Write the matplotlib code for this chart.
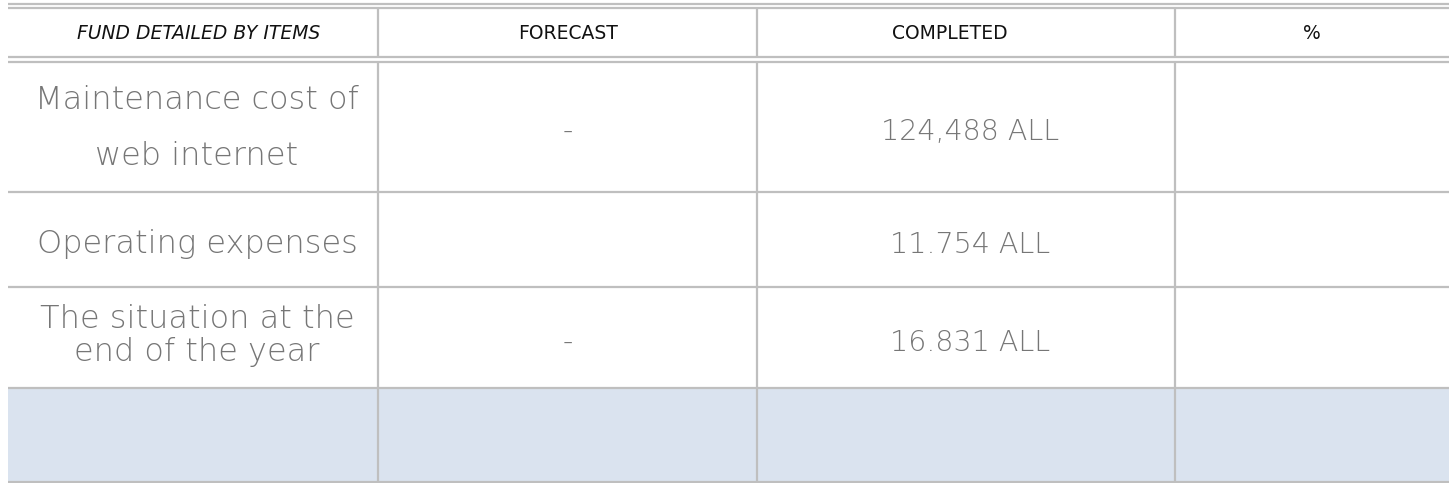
import matplotlib
matplotlib.use("Agg")
import matplotlib.pyplot as plt
from matplotlib.patches import Rectangle

# ---- data ----
headers = ["FUND DETAILED BY ITEMS", "FORECAST", "COMPLETED", "%"]
header_italic = [True, False, False, False]
items = [["Maintenance cost of", "web internet"],
         ["Operating expenses"],
         ["The situation at the", "end of the year"],
         []]
forecast = ["-", "", "-", ""]
completed = ["124,488 ALL", "11.754 ALL", "16.831 ALL", ""]
percent = ["", "", "", ""]

# ---- layout (pixels) ----
W, H = 1449, 483
col_edges = [8, 378, 757, 1175, 1449]
row_edges = [8, 59.5, 192, 287, 388, 482]
item_baselines = [[109, 165], [253], [328, 361], []]
value_baselines = [140, 253, 351, 0]

line_c = "#bfbfbf"
fill_c = "#dae3ef"
text_c = "#767676"
lw = 1.6

fig = plt.figure(figsize=(W / 100, H / 100), dpi=100)
ax = fig.add_axes([0, 0, 1, 1])
ax.set_xlim(0, W)
ax.set_ylim(H, 0)
ax.axis("off")

# shaded last row
ax.add_patch(Rectangle((col_edges[0], row_edges[4]), col_edges[-1] - col_edges[0],
                       row_edges[5] - row_edges[4], facecolor=fill_c, edgecolor="none", zorder=0))

x0, x1 = col_edges[0], col_edges[-1]
for y in (4, 8, 57.3, 61.7):
    ax.plot([x0, x1], [y, y], color=line_c, lw=lw, solid_capstyle="butt")
for y in row_edges[2:]:
    ax.plot([x0, x1], [y, y], color=line_c, lw=lw, solid_capstyle="butt")
for x in col_edges[1:-1]:
    ax.plot([x, x], [8, 57.3], color=line_c, lw=lw, solid_capstyle="butt")
    ax.plot([x, x], [61.7, 482], color=line_c, lw=lw, solid_capstyle="butt")

family = ["DejaVu Sans"]
header_x = [199, 568, 950, 1312]
for cx, h, it in zip(header_x, headers, header_italic):
    ax.text(cx, 39, h, ha="center", va="baseline", fontsize=13.5,
            style="italic" if it else "normal", color="#111111", family=family)

item_x = 197
forecast_x = (378 + 757) / 2
completed_x = 970
percent_x = (1175 + 1449) / 2
for r in range(4):
    for line, yb in zip(items[r], item_baselines[r]):
        ax.text(item_x, yb, line, ha="center", va="baseline", fontsize=23,
                color=text_c, family=family, weight="light")
    for cx, col in ((forecast_x, forecast), (completed_x, completed), (percent_x, percent)):
        if col[r]:
            ax.text(cx, value_baselines[r], col[r], ha="center", va="baseline",
                    fontsize=20.5, color=text_c, family=family, weight="light")

fig.savefig("out.png", dpi=100)
